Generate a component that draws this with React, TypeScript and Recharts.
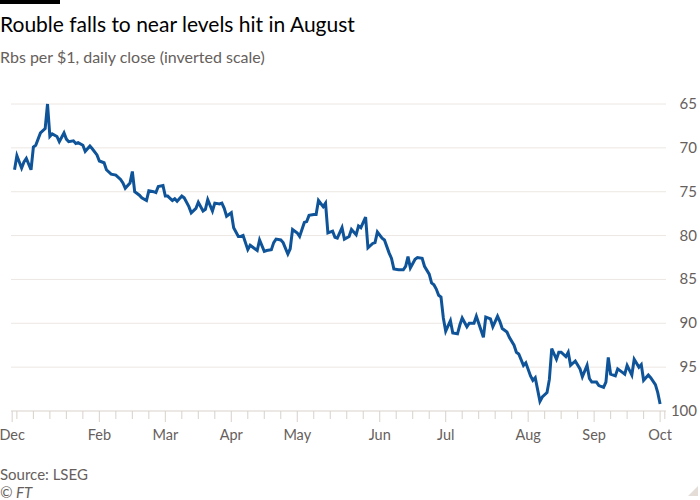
import React from "react"
import { LineChart, Line, XAxis, YAxis, CartesianGrid } from "recharts"

// days counted from 1 Jan 2023, daily close in roubles per dollar
const tradeDays = [
  0, 1, 3, 4, 5, 7, 8, 9, 11, 13, 14, 15, 16, 18, 19, 21, 22, 23, 25, 26, 27, 29, 30, 32, 33, 35, 36, 38, 39, 41, 43, 45,
  46, 47, 49, 50, 51, 53, 54, 56, 57, 59, 60, 61, 63, 64, 65, 67, 68, 69, 71, 72, 74, 75, 77, 78, 80, 81, 82, 84, 85, 87, 88,
  89, 90, 92, 93, 95, 96, 97, 99, 100, 101, 103, 104, 106, 107, 109, 110, 111, 113, 114, 116, 117, 118, 120, 121, 123, 124, 125, 127, 128, 129, 131, 132,
  133, 135, 136, 137, 139, 140, 142, 143, 145, 146, 147, 149, 150, 152, 153, 154, 156, 157, 159, 160, 161, 163, 165, 166, 167, 168, 170, 171, 173, 174, 176, 177,
  178, 179, 180, 181, 182, 183, 185, 186, 188, 189, 190, 192, 193, 195, 196, 198, 199, 200, 202, 203, 205, 206, 207, 209, 210, 212, 213, 214, 216, 217, 219, 220, 221, 223,
  224, 226, 227, 228, 230, 231, 232, 234, 235, 236, 238, 240, 241, 243, 244, 245, 247, 248, 250, 251, 252, 253, 255, 256, 258, 259, 260, 262, 263, 265, 266, 267, 269, 270, 272, 273, 274
]

const rubPerUsd = [
  72.5, 70.9, 72.3, 71.6, 71.2, 72.5, 69.9, 69.7, 68.3, 67.8, 65.0, 68.7, 68.4, 68.7, 69.3, 68.3, 69.0, 69.3, 69.2, 69.5, 69.4, 69.7, 70.4, 69.8, 70.1, 70.8, 71.5, 71.7, 72.5, 73.0, 73.1, 73.6,
  74.0, 74.6, 74.0, 72.7, 75.0, 75.4, 75.7, 76.0, 74.9, 75.0, 75.1, 74.4, 74.3, 75.5, 75.5, 76.0, 75.8, 76.1, 75.5, 75.7, 76.7, 77.4, 76.9, 76.2, 77.2, 77.0, 75.9, 77.2, 76.3, 76.4, 76.3,
  76.9, 77.8, 77.4, 79.1, 80.1, 80.1, 80.0, 81.6, 81.1, 81.3, 81.7, 80.5, 81.8, 81.7, 81.6, 80.8, 80.4, 80.5, 80.8, 82.1, 81.5, 79.3, 79.7, 80.1, 78.5, 78.4, 77.7, 77.6, 77.6, 76.0, 76.7, 76.3,
  79.7, 79.5, 80.2, 80.3, 79.1, 80.4, 80.1, 79.3, 79.9, 78.9, 79.1, 77.9, 81.4, 80.9, 80.8, 79.6, 80.3, 80.5, 82.0, 82.6, 83.8, 83.9, 83.9, 83.5, 82.4, 83.7, 82.7, 82.5, 82.6, 83.5, 84.4, 85.4,
  85.6, 86.1, 86.8, 87.0, 89.4, 90.9, 89.7, 91.1, 91.2, 90.2, 89.4, 90.4, 90.0, 90.0, 89.2, 90.8, 91.6, 89.3, 89.5, 90.4, 89.2, 89.8, 90.6, 91.0, 91.6, 92.5, 93.3, 93.5, 94.8, 94.5, 96.0, 96.5, 96.2, 98.9,
  98.4, 97.9, 96.4, 92.9, 94.1, 93.3, 93.3, 93.8, 93.3, 94.8, 94.3, 95.2, 96.1, 94.8, 96.3, 96.7, 96.7, 97.1, 97.3, 96.7, 93.9, 95.8, 96.0, 95.2, 95.6, 95.8, 94.8, 95.9, 94.1, 95.0, 94.7, 96.5, 95.9, 96.2, 97.0, 97.9, 99.2
]

// first Monday of each month gets a label; "Dec" marks the start of the axis
const monthTickDays = [-1, 36, 64, 92, 120, 155, 183, 218, 246, 274]
const monthLabels = ["Dec", "Feb", "Mar", "Apr", "May", "Jun", "Jul", "Aug", "Sep", "Oct"]
const yTicks = [65, 70, 75, 80, 85, 90, 95, 100]

const data = tradeDays.map((day, i) => ({ day, rate: rubPerUsd[i] }))

// weekly ticks on Mondays (2 Jan 2023 is day 1)
const weekTicks: number[] = [-1]
for (let d = 1; d <= 274; d += 7) weekTicks.push(d)
weekTicks.push(276)

const FONT = "Lato, 'Noto Sans', sans-serif"
const GREY = "#66605c"

const XTick = ({ x, y, payload }: any) => {
  const idx = monthTickDays.indexOf(payload.value)
  const isMonth = idx >= 0
  return (
    <g>
      <line x1={x} x2={x} y1={y} y2={y + (isMonth ? 11 : 8)} stroke="#d8d1cb" strokeWidth={1} />
      {isMonth && (
        <text x={x} y={y + 29} textAnchor="middle" fill={GREY} fontSize={14.5} fontFamily={FONT}>
          {monthLabels[idx]}
        </text>
      )}
    </g>
  )
}

const YTick = ({ x, y, payload }: any) => (
  <text x={x + 31} y={y + 5} textAnchor="end" fill={GREY} fontSize={15} fontFamily={FONT}>
    {payload.value}
  </text>
)

export default function App() {
  return (
    <div style={{ position: "relative", width: 700, height: 500, background: "#fff", overflow: "hidden" }}>
      <style>{"body{margin:0}"}</style>
      <div style={{ position: "absolute", left: 0, top: 0, width: 60, height: 4, background: "#000" }} />
      <div style={{ position: "absolute", left: 0, top: 11, fontFamily: FONT, fontSize: 21, color: "#000", whiteSpace: "nowrap" }}>
        Rouble falls to near levels hit in August
      </div>
      <div style={{ position: "absolute", left: 0, top: 47, fontFamily: FONT, fontSize: 16, color: GREY, whiteSpace: "nowrap" }}>
        Rbs per $1, daily close (inverted scale)
      </div>
      <div style={{ position: "absolute", left: 0, top: 0 }}>
        <LineChart width={700} height={500} data={data} margin={{ top: 104, right: 0, bottom: 59, left: 11 }}>
          <CartesianGrid vertical={false} stroke="#ece7e3" strokeWidth={1} />
          <XAxis
            dataKey="day"
            type="number"
            domain={[-1.5, 276.5]}
            ticks={weekTicks}
            interval={0}
            axisLine={{ stroke: "#e3ddd8" }}
            tickLine={false}
            tickSize={0}
            tickMargin={0}
            height={30}
            tick={<XTick />}
          />
          <YAxis
            orientation="right"
            domain={[65, 100]}
            ticks={yTicks}
            reversed
            width={34}
            axisLine={false}
            tickLine={false}
            tickSize={0}
            tickMargin={0}
            tick={<YTick />}
          />
          <Line
            type="linear"
            dataKey="rate"
            stroke="#0f5499"
            strokeWidth={3}
            dot={false}
            isAnimationActive={false}
          />
        </LineChart>
      </div>
      <div style={{ position: "absolute", left: 0, top: 465, fontFamily: FONT, fontSize: 15, color: GREY }}>
        Source: LSEG
      </div>
      <div style={{ position: "absolute", left: 0, top: 483, fontFamily: FONT, fontSize: 15, color: GREY, fontStyle: "italic" }}>
        © FT
      </div>
      <svg style={{ position: "absolute", left: 688, top: 486 }} width={10} height={10}>
        <polygon points="10,0 10,10 0,10" fill="#e4ddd7" />
      </svg>
    </div>
  )
}
